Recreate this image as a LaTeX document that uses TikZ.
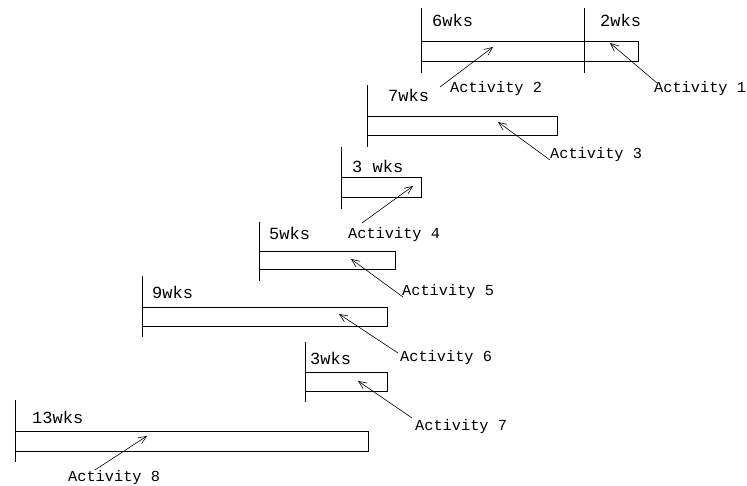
\documentclass[tikz,border=0pt]{standalone}
\usepackage{fontspec}
\setmonofont{Liberation Mono}
\usetikzlibrary{arrows.meta}
\tikzset{
  wk/.style={anchor=base west,inner sep=0pt,font=\ttfamily\fontsize{17}{17}\selectfont},
  act/.style={anchor=base west,inner sep=0pt,font=\ttfamily\fontsize{15.3}{15.3}\selectfont},
  bar/.style={draw,line width=0.8pt},
  tick/.style={draw,line width=0.8pt},
  lead/.style={draw,line width=0.6pt,-{Straight Barb[length=8pt,width=7pt]}}
}
\begin{document}
\begin{tikzpicture}[x=1pt,y=-1pt]
\useasboundingbox (0,0) rectangle (747,486);
% row 1 / 2
\path[tick] (421,8) -- (421,73);
\path[tick] (584,8) -- (584,73);
\path[bar] (421,41) rectangle (638,61);
\node[wk] (w6) at (432,27) {6wks};
\node[wk] (w2) at (600,27) {2wks};
\node[act] (a2) at (450,93) {Activity 2};
\node[act] (a1) at (654,93) {Activity 1};
\coordinate (t1) at (657,83); \coordinate (h1) at (610,43);
\coordinate (t2) at (440,87); \coordinate (h2) at (493,47);
\path[lead] (t1) -- (h1);
\path[lead] (t2) -- (h2);
% row 3
\path[tick] (367,85) -- (367,147);
\path[bar] (367,116) rectangle (557,135);
\node[wk] (w7) at (388,102) {7wks};
\node[act] (a3) at (550,159) {Activity 3};
\coordinate (t3) at (550,160); \coordinate (h3) at (498,122);
\path[lead] (t3) -- (h3);
% row 4
\path[tick] (341,147) -- (341,209);
\path[bar] (341,177) rectangle (421,197);
\node[wk] (w3a) at (352,173) {3 wks};
\node[act] (a4) at (348,239) {Activity 4};
\coordinate (t4) at (362,223); \coordinate (h4) at (413,186);
\path[lead] (t4) -- (h4);
% row 5
\path[tick] (259,222) -- (259,281);
\path[bar] (259,251) rectangle (395,269);
\node[wk] (w5) at (269,240) {5wks};
\node[act] (a5) at (402,296) {Activity 5};
\coordinate (t5) at (403,297); \coordinate (h5) at (351,259);
\path[lead] (t5) -- (h5);
% row 6
\path[tick] (142,276) -- (142,337);
\path[bar] (142,307) rectangle (387,326);
\node[wk] (w9) at (152,299) {9wks};
\node[act] (a6) at (400,361) {Activity 6};
\coordinate (t6) at (398,353); \coordinate (h6) at (339,314);
\path[lead] (t6) -- (h6);
% row 7
\path[tick] (305,342) -- (305,402);
\path[bar] (305,372) rectangle (387,391);
\node[wk] (w3b) at (310,364) {3wks};
\node[act] (a7) at (415,430) {Activity 7};
\coordinate (t7) at (412,418); \coordinate (h7) at (358,381);
\path[lead] (t7) -- (h7);
% row 8
\path[tick] (15,400) -- (15,462);
\path[bar] (15,431) rectangle (368,451);
\node[wk] (w13) at (32,423) {13wks};
\node[act] (a8) at (68,481) {Activity 8};
\coordinate (t8) at (95,470); \coordinate (h8) at (147,436);
\path[lead] (t8) -- (h8);
\end{tikzpicture}
\end{document}
